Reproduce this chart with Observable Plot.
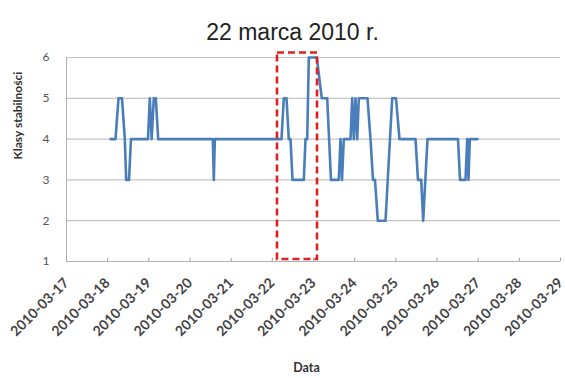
<!DOCTYPE html>
<html>
<head>
<meta charset="utf-8">
<script src="https://cdn.jsdelivr.net/npm/d3@7"></script>
<script src="https://cdn.jsdelivr.net/npm/@observablehq/plot@0.6"></script>
<style>
  html, body { margin: 0; padding: 0; background: #fff; }
  #chart svg { display: block; background: #fff; }
</style>
</head>
<body>
<div id="chart"></div>
<script>
// Title and axis labels
const titleText = "22 marca 2010 r.";
const yLabel = "Klasy stabilności";
const xLabel = "Data";

// Tick labels
const dayTicks = ["2010-03-17","2010-03-18","2010-03-19","2010-03-20","2010-03-21","2010-03-22","2010-03-23","2010-03-24","2010-03-25","2010-03-26","2010-03-27","2010-03-28","2010-03-29"];
const yTicks = [1, 2, 3, 4, 5, 6];

// Series: time (UTC) and stability class
const times = [
  "2010-03-18T01:40","2010-03-18T04:34","2010-03-18T06:19","2010-03-18T08:21","2010-03-18T10:00","2010-03-18T10:48","2010-03-18T12:26","2010-03-18T13:36",
  "2010-03-18T23:31","2010-03-19T00:34","2010-03-19T01:40","2010-03-19T02:54","2010-03-19T04:04","2010-03-19T05:28",
  "2010-03-20T13:18","2010-03-20T13:53","2010-03-20T14:28",
  "2010-03-22T05:21","2010-03-22T06:41","2010-03-22T08:16","2010-03-22T09:36","2010-03-22T10:36","2010-03-22T11:45",
  "2010-03-22T18:21","2010-03-22T19:20","2010-03-22T20:20","2010-03-22T21:16","2010-03-23T01:55","2010-03-23T04:50",
  "2010-03-23T07:59","2010-03-23T10:12","2010-03-23T14:45","2010-03-23T15:45","2010-03-23T16:37","2010-03-23T17:40",
  "2010-03-23T21:34","2010-03-23T22:34","2010-03-23T23:30","2010-03-24T00:29","2010-03-24T01:29","2010-03-24T02:25",
  "2010-03-24T07:29","2010-03-24T09:14","2010-03-24T10:41","2010-03-24T11:51","2010-03-24T13:29","2010-03-24T17:59",
  "2010-03-24T21:53","2010-03-25T00:06","2010-03-25T02:08","2010-03-25T11:28","2010-03-25T12:55","2010-03-25T14:48",
  "2010-03-25T15:57","2010-03-25T18:28","2010-03-26T12:15","2010-03-26T13:25","2010-03-26T16:37","2010-03-26T17:37",
  "2010-03-26T18:22","2010-03-26T19:07","2010-03-26T23:37"
];
const values = [
  4,4,5,5,4,3,3,4,
  4,5,4,5,5,4,
  4,3,4,
  4,5,5,4,4,3,
  3,4,4,6,6,5,
  5,3,3,4,3,4,
  4,5,4,5,4,5,
  5,4,3,3,2,2,
  5,5,4,4,3,3,
  2,4,4,3,3,4,
  3,4,4
];

// Highlight box (dashed) around 22 March
const boxTimes = ["2010-03-22T03:00", "2010-03-23T02:20"];
const boxValues = [1.05, 6.11];

const parseT = d3.utcParse("%Y-%m-%dT%H:%M");
const parseD = d3.utcParse("%Y-%m-%d");
const series = times.map((t, i) => ({date: parseT(t), value: values[i]}));
const days = dayTicks.map(parseD);
const box = [{x1: parseT(boxTimes[0]), x2: parseT(boxTimes[1]), y1: boxValues[0], y2: boxValues[1]}];

const fmt = d3.utcFormat("%Y-%m-%d");

const chart = Plot.plot({
  width: 565,
  height: 378,
  marginLeft: 66,
  marginRight: 5,
  marginTop: 57,
  marginBottom: 117,
  style: {fontFamily: "Lato, 'Liberation Sans', sans-serif", background: "#fff"},
  x: {type: "utc", domain: [days[0], days[days.length - 1]]},
  y: {domain: [1, 6]},
  marks: [
    Plot.ruleY(yTicks.filter(d => d > 1), {stroke: "#c4c4c4", strokeWidth: 1.2}),
    Plot.ruleY([yTicks[0]], {stroke: "#b0b0b0", strokeWidth: 1}),
    Plot.ruleX([days[0]], {stroke: "#b0b0b0", strokeWidth: 1}),
    Plot.ruleX(days, {x: d => d, y1: () => 1, y2: () => 1.08, stroke: "#a0a0a0"}),
    Plot.axisY({ticks: yTicks, tickFormat: d => String(d), tickSize: 0, tickPadding: 17, label: null, fontSize: 12, fill: "#555"}),
    Plot.axisX({ticks: days, tickFormat: fmt, tickRotate: -45, tickSize: 0, tickPadding: 19, label: null, fontSize: 14, fontWeight: "bold", fill: "#444"}),
    Plot.line(series, {x: "date", y: "value", stroke: "#4a7ebb", strokeWidth: 2.6}),
    Plot.rect(box, {x1: "x1", x2: "x2", y1: "y1", y2: "y2", fill: "none", stroke: "#e0201e", strokeWidth: 2.6, strokeDasharray: "7,4"}),
    Plot.text([titleText], {frameAnchor: "top", dx: -21, dy: -34, fontSize: 23, fontFamily: "'Liberation Sans', Arial, sans-serif", fill: "#222"}),
    Plot.text([yLabel], {frameAnchor: "left", dx: -48, rotate: -90, fontSize: 12, fontWeight: "bold", fill: "#333"}),
    Plot.text([xLabel], {frameAnchor: "bottom", dx: -7, dy: 110, fontSize: 12.5, fontWeight: "bold", fill: "#333"})
  ]
});
document.getElementById("chart").appendChild(chart);
</script>
</body>
</html>
